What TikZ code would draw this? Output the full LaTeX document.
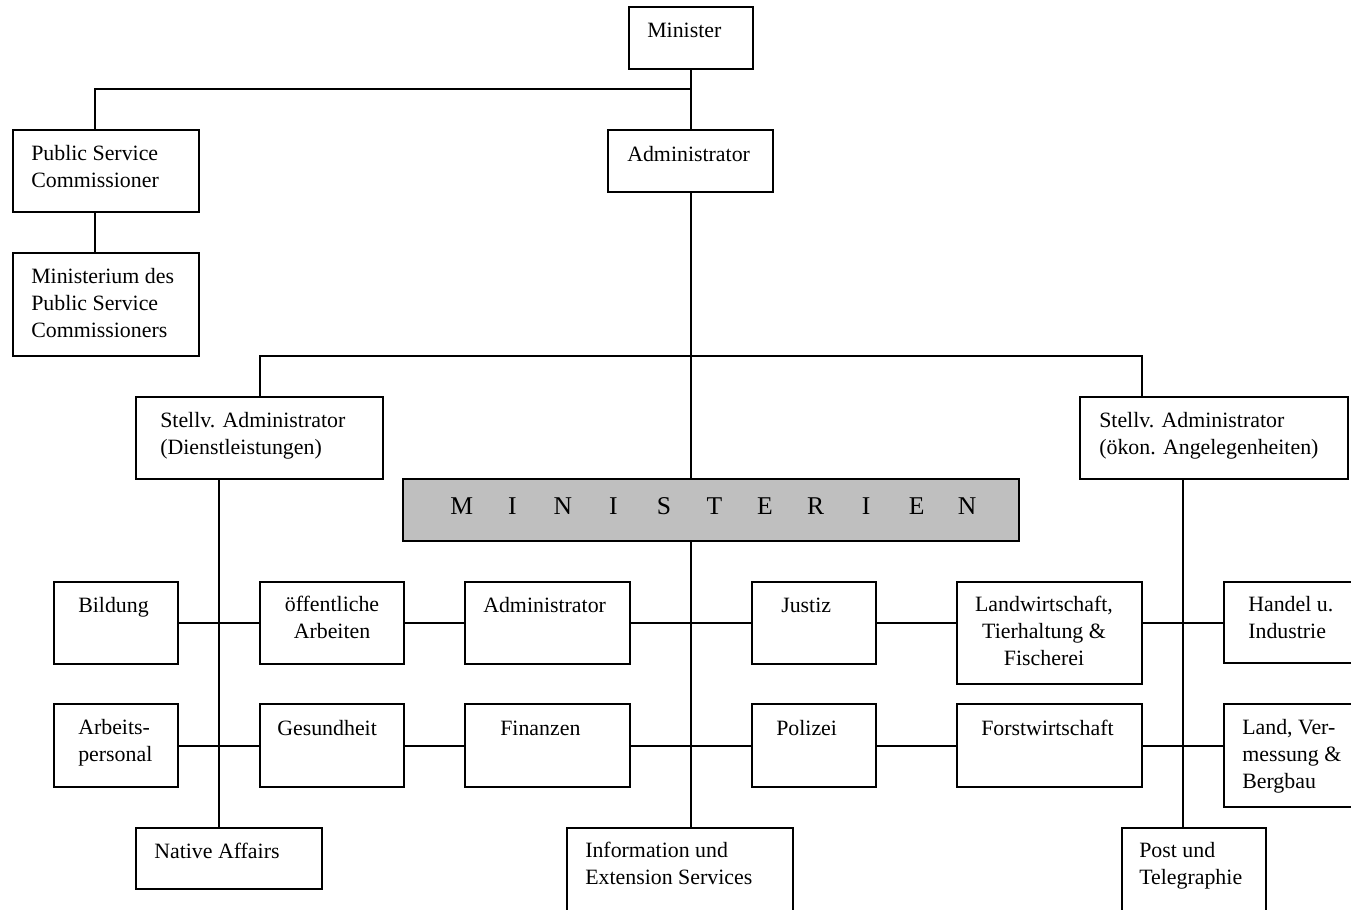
\documentclass[tikz,border=0pt]{standalone}
\usepackage{fontspec}
\setmainfont{Liberation Serif}
\usetikzlibrary{fit}
\begin{document}
\begin{tikzpicture}[x=0.75pt,y=-0.75pt,
  box/.style={draw, line width=1.5pt, inner sep=0pt, fill=white},
  greybox/.style={box, fill=black!25},
  txt/.style={inner sep=0pt, font=\fontsize{16.4}{19.9}\selectfont, align=left, anchor=base west},
  ctxt/.style={txt, align=center, anchor=base},
  link/.style={line width=1.5pt}]
\useasboundingbox (0,0) rectangle (1351,909);
\clip (0,0) rectangle (1351,909);
% boxes
\node[box, fit={(629,7) (753,69)}] (min) {};
\node[box, fit={(608,130) (773,192)}] (adm) {};
\node[box, fit={(13,130) (199,212)}] (psc) {};
\node[box, fit={(13,253) (199,356)}] (mps) {};
\node[box, fit={(136,397) (383,479)}] (stl) {};
\node[box, fit={(1080,397) (1348,479)}] (str) {};
\node[greybox, fit={(403,479) (1019,541)}] (mini) {};
\node[box, fit={(54,582) (178,664)}] (bil) {};
\node[box, fit={(260,582) (404,664)}] (oef) {};
\node[box, fit={(465,582) (630,664)}] (adr) {};
\node[box, fit={(752,582) (876,664)}] (jus) {};
\node[box, fit={(957,582) (1142,684)}] (lw) {};
\node[box, fit={(1224,582) (1362,663)}] (han) {};
\node[box, fit={(54,704) (178,787)}] (arb) {};
\node[box, fit={(260,704) (404,787)}] (ges) {};
\node[box, fit={(465,704) (630,787)}] (fin) {};
\node[box, fit={(752,704) (876,787)}] (pol) {};
\node[box, fit={(957,704) (1142,787)}] (fst) {};
\node[box, fit={(1224,704) (1362,807)}] (lvb) {};
\node[box, fit={(136,828) (322,889)}] (nat) {};
\node[box, fit={(567,828) (793,920)}] (inf) {};
\node[box, fit={(1122,828) (1266,920)}] (post) {};
% texts (anchor = baseline of the last line)
\node[txt] (min-t) at (647,38) {Minister};
\node[txt] (adm-t) at (627,162) {Administrator};
\node[txt] (psc-t) at (31,187.5) {Public Service\\Commissioner};
\node[txt] (mps-t) at (31,337) {Ministerium des\\Public Service\\Commissioners};
\node[txt] (stl-t) at (160,454.5) {Stellv. Administrator\\(Dienstleistungen)};
\node[txt] (str-t) at (1099,454.5) {Stellv. Administrator\\(ökon. Angelegenheiten)};
\newcommand\spletter[1]{\makebox[37.9pt]{#1}}
\node[inner sep=0pt, anchor=base, font=\fontsize{19.2}{23}\selectfont] (mini-t) at (714.5,514)
  {\spletter{M}\spletter{I}\spletter{N}\spletter{I}\spletter{S}\spletter{T}\spletter{E}\spletter{R}\spletter{I}\spletter{E}\spletter{N}};
\node[txt] (bil-t) at (78,612) {Bildung};
\node[ctxt] (oef-t) at (332,638.5) {öffentliche\\Arbeiten};
\node[txt] (adr-t) at (483,612) {Administrator};
\node[txt] (jus-t) at (781,612) {Justiz};
\node[ctxt] (lw-t) at (1044,665) {Landwirtschaft,\\Tierhaltung \&\\Fischerei};
\node[txt] (han-t) at (1248,638.5) {Handel u.\\Industrie};
\node[txt] (arb-t) at (78,761.5) {Arbeits-\\personal};
\node[txt] (ges-t) at (277,735) {Gesundheit};
\node[txt] (fin-t) at (500,735) {Finanzen};
\node[txt] (pol-t) at (776,735) {Polizei};
\node[txt] (fst-t) at (981,735) {Forstwirtschaft};
\node[txt] (lvb-t) at (1242,788) {Land, Ver-\\messung \&\\Bergbau};
\node[txt] (nat-t) at (154,858) {Native Affairs};
\node[txt] (inf-t) at (585,884.5) {Information und\\Extension Services};
\node[txt] (post-t) at (1139,884.5) {Post und\\Telegraphie};
% junction coordinates
\coordinate (j1) at (691,89);
\coordinate (pscT) at (95,130);
\coordinate (j2) at (691,356);
\coordinate (strT) at (1142,397);
\coordinate (vL) at (219,479);
\coordinate (vR) at (1183,479);
% connectors
\draw[link] (min.south) -- (min.south |- adm.north);
\draw[link] (j1) -| (pscT);
\draw[link] (psc.south -| pscT) -- (mps.north -| pscT);
\draw[link] (j1 |- adm.south) -- (j1 |- mini.north);
\draw[link] (j1 |- mini.south) -- (j1 |- inf.north);
\draw[link] (stl.north) |- (j2) -- (j2 -| strT) -- (strT);
\draw[link] (vL |- stl.south) -- (vL |- nat.north);
\draw[link] (vR |- str.south) -- (vR |- post.north);
% row 1
\draw[link] (bil.east) -- (oef.west);
\draw[link] (oef.east) -- (adr.west);
\draw[link] (adr.east) -- (jus.west);
\draw[link] (jus.east) -- (jus.east -| lw.west);
\draw[link] (lw.east |- han.west) -- (han.west);
% row 2
\draw[link] (arb.east) -- (ges.west);
\draw[link] (ges.east) -- (fin.west);
\draw[link] (fin.east) -- (pol.west);
\draw[link] (pol.east) -- (fst.west);
\draw[link] (fst.east) -- (fst.east -| lvb.west);
\end{tikzpicture}
\end{document}
